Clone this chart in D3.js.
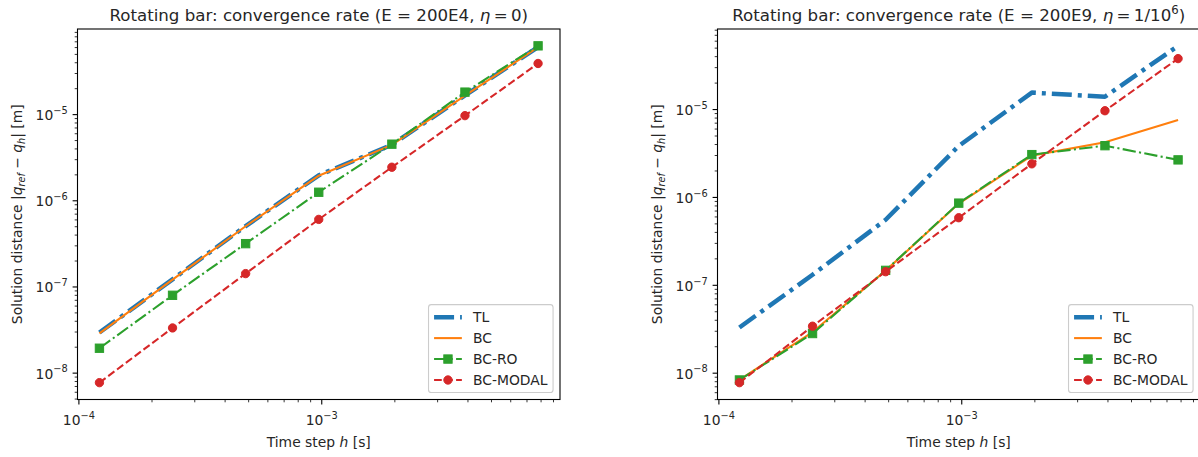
<!DOCTYPE html>
<html>
<head>
<meta charset="utf-8">
<script src="https://cdn.jsdelivr.net/npm/d3@7"></script>
<style>
  html, body { margin: 0; padding: 0; background: #fff; }
  svg { display: block; font-family: "DejaVu Sans", sans-serif; }
</style>
</head>
<body>
<svg id="chart" width="1198" height="457"></svg>
<script>
// Time steps h [s] (h = 1/8192 ... 1/128)
const timeSteps = [0.00012207, 0.00024414, 0.00048828, 0.00097656, 0.00195312, 0.00390625, 0.0078125];

const seriesNames = ["TL", "BC", "BC-RO", "BC-MODAL"];

// E = 200E4, eta = 0
const tlSoft    = [2.92e-8, 1.21e-7, 5.02e-7, 1.95e-6, 4.4e-6, 1.65e-5, 6.02e-5];
const bcSoft    = [2.85e-8, 1.2e-7, 5.0e-7, 1.93e-6, 4.4e-6, 1.64e-5, 6.0e-5];
const roSoft    = [1.92e-8, 7.9e-8, 3.14e-7, 1.24e-6, 4.48e-6, 1.8e-5, 6.2e-5];
const modalSoft = [7.65e-9, 3.3e-8, 1.41e-7, 6.0e-7, 2.42e-6, 9.6e-6, 3.87e-5];

// E = 200E9, eta = 1/10^6
const tlStiff    = [3.27e-8, 1.3e-7, 5.5e-7, 3.8e-6, 1.54e-5, 1.38e-5, 5.24e-5];
const bcStiff    = [8.3e-9, 2.9e-8, 1.45e-7, 8.4e-7, 2.95e-6, 4.18e-6, 7.5e-6];
const roStiff    = [8.26e-9, 2.79e-8, 1.46e-7, 8.5e-7, 3.03e-6, 3.83e-6, 2.64e-6];
const modalStiff = [7.7e-9, 3.38e-8, 1.41e-7, 5.8e-7, 2.38e-6, 9.57e-6, 3.75e-5];

// Line styles per series
const styles = [
  { color: "#1f77b4", width: 4.5, dash: "20,6,4,6", marker: null },
  { color: "#ff7f0e", width: 2.08, dash: null, marker: null },
  { color: "#2ca02c", width: 2.08, dash: "13.3,3.3,2.1,3.3", marker: "square" },
  { color: "#d62728", width: 2.08, dash: "7.7,3.3", marker: "circle" }
];

const svg = d3.select("#chart");
const FS = 13.89;      // 10pt
const TFS = 16.67;     // 12pt

// log-scale domain with 5% padding in decades
function logDomain(values) {
  const ext = d3.extent(values.map(v => Math.log10(v)));
  const pad = (ext[1] - ext[0]) * 0.05;
  return [Math.pow(10, ext[0] - pad), Math.pow(10, ext[1] + pad)];
}

function powerTicks(domain) {
  const lo = Math.floor(Math.log10(domain[0])), hi = Math.ceil(Math.log10(domain[1]));
  const major = [], minor = [];
  for (let k = lo; k <= hi; k++) {
    const b = Math.pow(10, k);
    if (b >= domain[0] && b <= domain[1]) major.push(b);
    for (let m = 2; m <= 9; m++) {
      const v = m * b;
      if (v >= domain[0] && v <= domain[1]) minor.push(v);
    }
  }
  return { major, minor };
}

function writePower(textSel, d) {
  const e = Math.round(Math.log10(d));
  textSel.text(null);
  textSel.append("tspan").text("10");
  textSel.append("tspan").attr("dy", -6.2).attr("font-size", 9.8)
    .text((e < 0 ? "\u2212" : "") + Math.abs(e));
}

function drawMarkers(parent, s, pts) {
  const r = 4.17;
  if (s.marker === "square") {
    parent.selectAll(null).data(pts).enter().append("rect")
      .attr("x", d => d[0] - r).attr("y", d => d[1] - r)
      .attr("width", 2 * r).attr("height", 2 * r)
      .attr("fill", s.color).attr("stroke", s.color).attr("stroke-width", 1);
  } else if (s.marker === "circle") {
    parent.selectAll(null).data(pts).enter().append("circle")
      .attr("cx", d => d[0]).attr("cy", d => d[1]).attr("r", r)
      .attr("fill", s.color).attr("stroke", s.color).attr("stroke-width", 1);
  }
}

function panel(opts) {
  const { x0, x1, y0, y1, data, titleParts } = opts;
  const g = svg.append("g");

  const allY = data.flat();
  const x = d3.scaleLog().domain(logDomain(timeSteps)).range([x0, x1]);
  const y = d3.scaleLog().domain(logDomain(allY)).range([y1, y0]);

  const xt = powerTicks(x.domain()), yt = powerTicks(y.domain());
  const styleAxis = (ga) => {
    ga.attr("font-family", null).attr("font-size", null);
    ga.select(".domain").remove();
    ga.selectAll(".tick line").attr("stroke", "#000");
  };

  // minor ticks
  g.append("g").attr("transform", `translate(0,${y1})`)
    .call(d3.axisBottom(x).tickValues(xt.minor).tickSize(2.8).tickFormat(() => ""))
    .call(styleAxis).selectAll(".tick line").attr("stroke-width", 0.8);
  g.append("g").attr("transform", `translate(${x0},0)`)
    .call(d3.axisLeft(y).tickValues(yt.minor).tickSize(2.8).tickFormat(() => ""))
    .call(styleAxis).selectAll(".tick line").attr("stroke-width", 0.8);

  // major ticks + labels
  const gx = g.append("g").attr("transform", `translate(0,${y1})`)
    .call(d3.axisBottom(x).tickValues(xt.major).tickSize(4.9).tickFormat(() => ""))
    .call(styleAxis);
  gx.selectAll(".tick line").attr("stroke-width", 1.1);
  gx.selectAll(".tick text").each(function (d) {
    const t = d3.select(this).attr("dy", null).attr("y", 25.5)
      .attr("font-size", FS).attr("fill", "#262626");
    writePower(t, d);
  });

  const gy = g.append("g").attr("transform", `translate(${x0},0)`)
    .call(d3.axisLeft(y).tickValues(yt.major).tickSize(4.9).tickFormat(() => ""))
    .call(styleAxis);
  gy.selectAll(".tick line").attr("stroke-width", 1.1);
  gy.selectAll(".tick text").each(function (d) {
    const t = d3.select(this).attr("dy", null).attr("y", 5.5).attr("x", -9.8)
      .attr("font-size", FS).attr("fill", "#262626");
    writePower(t, d);
  });

  // series, clipped to the axes area
  const clipId = "clip" + Math.round(x0);
  svg.append("clipPath").attr("id", clipId).append("rect")
    .attr("x", x0).attr("y", y0).attr("width", x1 - x0).attr("height", y1 - y0);
  const plot = g.append("g").attr("clip-path", `url(#${clipId})`);
  const line = d3.line().x((d, i) => x(timeSteps[i])).y(d => y(d));

  data.forEach((vals, si) => {
    const s = styles[si];
    plot.append("path").attr("d", line(vals)).attr("fill", "none")
      .attr("stroke", s.color).attr("stroke-width", s.width)
      .attr("stroke-dasharray", s.dash).attr("stroke-linejoin", "round");
    drawMarkers(plot, s, vals.map((v, i) => [x(timeSteps[i]), y(v)]));
  });

  // frame
  g.append("rect").attr("x", x0).attr("y", y0).attr("width", x1 - x0).attr("height", y1 - y0)
    .attr("fill", "none").attr("stroke", "#000").attr("stroke-width", 1.1);

  // title
  const cx = (x0 + x1) / 2;
  const title = g.append("text").attr("x", cx).attr("y", y0 - 8.3)
    .attr("text-anchor", "middle").attr("font-size", TFS).attr("fill", "#262626");
  titleParts.forEach(p => {
    const ts = title.append("tspan").text(p.t);
    if (p.i) ts.attr("font-style", "italic");
    if (p.sup) ts.attr("font-size", 11.7);
    if (p.dy) ts.attr("dy", p.dy);
  });

  // x label
  const xl = g.append("text").attr("x", cx).attr("y", 446.5)
    .attr("text-anchor", "middle").attr("font-size", FS).attr("fill", "#262626");
  xl.append("tspan").text("Time step ");
  xl.append("tspan").attr("font-style", "italic").text("h");
  xl.append("tspan").text(" [s]");

  // y label
  const ly = (y0 + y1) / 2;
  const yl = g.append("text").attr("transform", `translate(${x0 - 55.5},${ly}) rotate(-90)`)
    .attr("text-anchor", "middle").attr("font-size", FS).attr("fill", "#262626");
  yl.append("tspan").text("Solution distance |");
  yl.append("tspan").attr("font-style", "italic").text("q");
  yl.append("tspan").attr("font-style", "italic").attr("font-size", 9.7).attr("dy", 2.8).text("ref");
  yl.append("tspan").attr("dy", -2.8).text(" \u2212 ");
  yl.append("tspan").attr("font-style", "italic").text("q");
  yl.append("tspan").attr("font-style", "italic").attr("font-size", 9.7).attr("dy", 2.8).text("h");
  yl.append("tspan").attr("dy", -2.8).text("| [m]");

  // legend (lower right)
  const bp = 0.4 * FS, rowH = 14.0, ls = 0.5 * FS, hl = 2 * FS, htp = 0.8 * FS;
  const lgRight = x1 - 0.5 * FS;
  const lgBottom = y1 - 0.5 * FS;
  const lgH = 2 * bp + seriesNames.length * rowH + (seriesNames.length - 1) * ls;
  const lg = g.append("g");
  const box = lg.append("rect");
  const items = lg.append("g");
  let maxW = 0;
  const texts = seriesNames.map(name => {
    const t = items.append("text").attr("font-size", FS).attr("fill", "#262626").text(name);
    maxW = Math.max(maxW, t.node().getComputedTextLength());
    return t;
  });
  const lgW = bp + hl + htp + maxW + bp;
  const lgLeft = lgRight - lgW, lgTop = lgBottom - lgH;
  box.attr("x", lgLeft).attr("y", lgTop).attr("width", lgW).attr("height", lgH)
    .attr("rx", 2.8).attr("fill", "#fff").attr("fill-opacity", 0.8)
    .attr("stroke", "#cccccc").attr("stroke-width", 1.1);
  seriesNames.forEach((name, i) => {
    const s = styles[i];
    const cy = lgTop + bp + i * (rowH + ls) + rowH / 2;
    const hx0 = lgLeft + bp, hx1 = hx0 + hl;
    items.append("line").attr("x1", hx0).attr("x2", hx1).attr("y1", cy).attr("y2", cy)
      .attr("stroke", s.color).attr("stroke-width", s.width).attr("stroke-dasharray", s.dash);
    drawMarkers(items, s, [[(hx0 + hx1) / 2, cy]]);
    texts[i].attr("x", hx1 + htp).attr("y", cy + 5);
  });
}

panel({
  x0: 77.5, x1: 560, y0: 29, y1: 399.5,
  data: [tlSoft, bcSoft, roSoft, modalSoft],
  titleParts: [{ t: "Rotating bar: convergence rate (E = 200E4, " }, { t: "\u03b7", i: true },
               { t: "\u2009=\u20090)" }]
});
panel({
  x0: 717.5, x1: 1200, y0: 29, y1: 399.5,
  data: [tlStiff, bcStiff, roStiff, modalStiff],
  titleParts: [{ t: "Rotating bar: convergence rate (E = 200E9, " }, { t: "\u03b7", i: true },
               { t: "\u2009=\u20091/10" }, { t: "6", sup: true, dy: -7 }, { t: ")", dy: 7 }]
});
</script>
</body>
</html>
